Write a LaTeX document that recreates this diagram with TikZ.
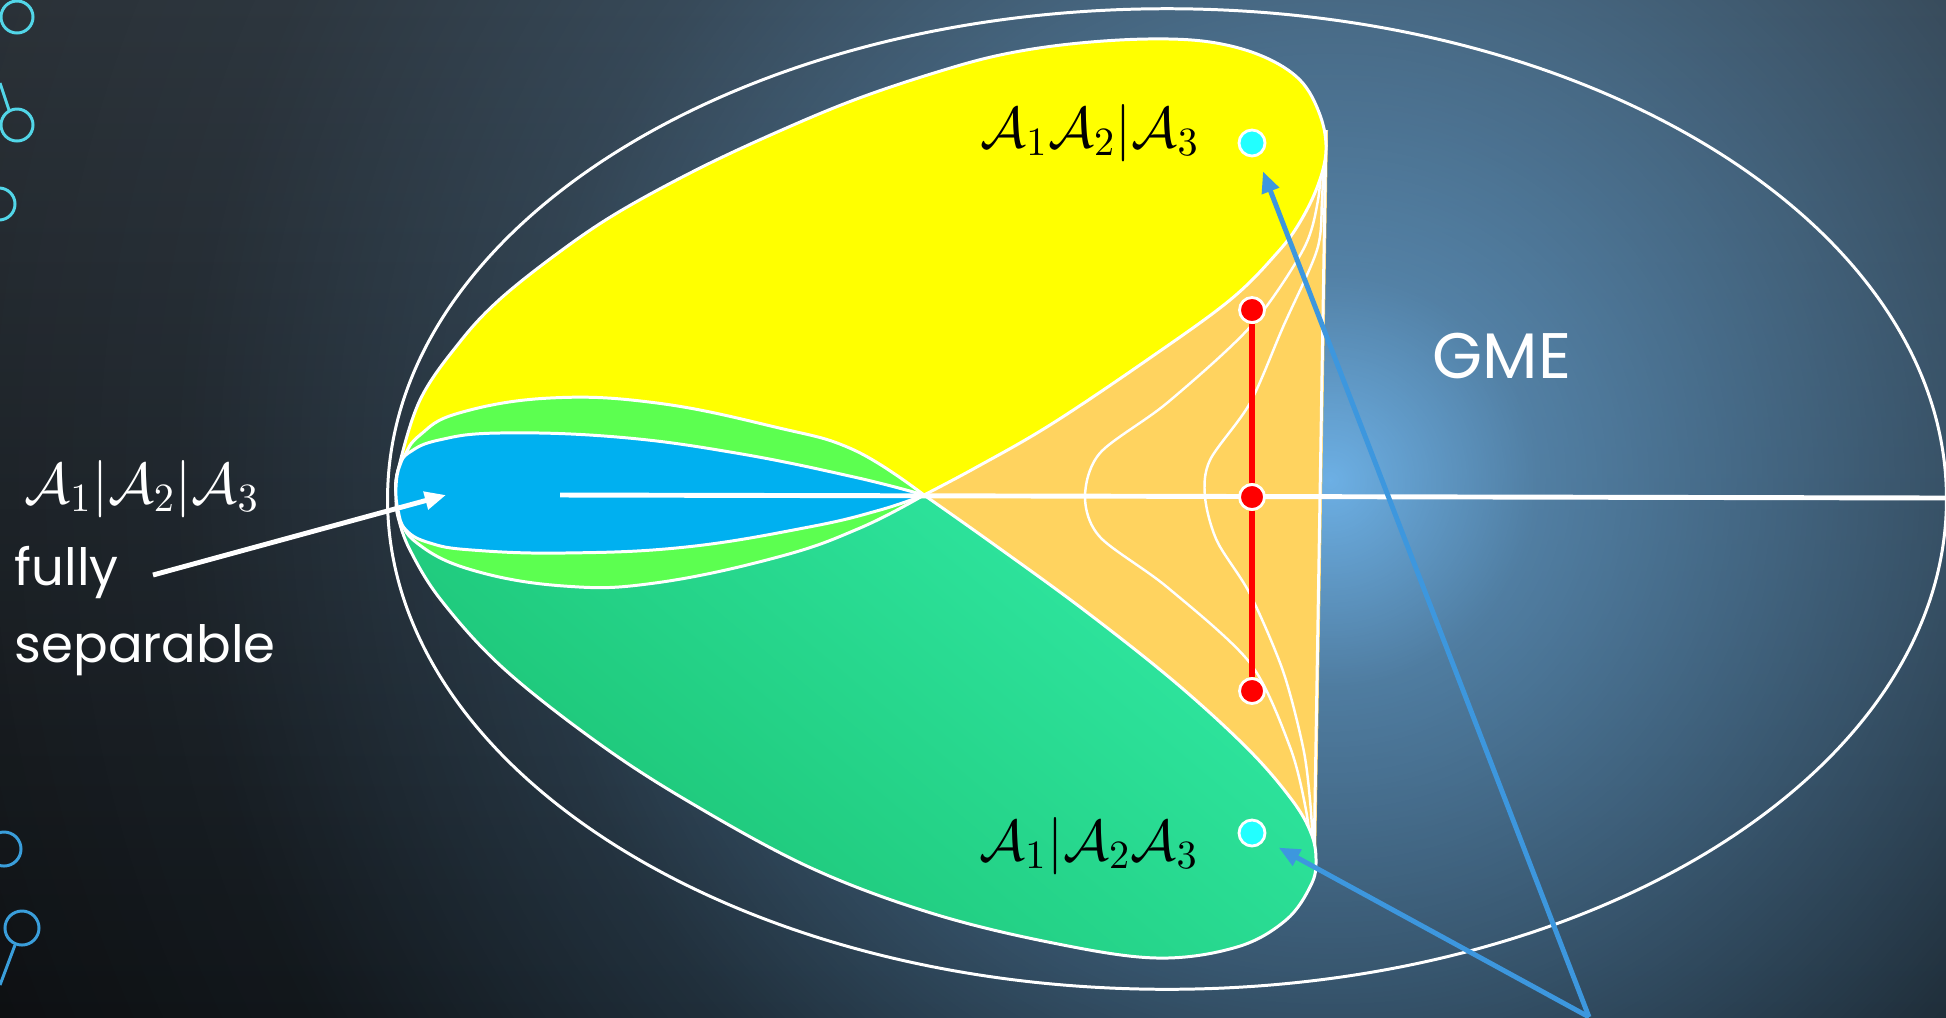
\RequirePackage{fix-cm}
\documentclass[tikz,border=0pt]{standalone}
\usepackage{fontspec}
\setmainfont{Poppins}
\usetikzlibrary{arrows.meta,fadings}
\definecolor{bgtop}{HTML}{2A3036}
\definecolor{bgbot}{HTML}{0D0F11}
\definecolor{glowc}{HTML}{6DB0E5}
\definecolor{yel}{HTML}{FFFF00}
\definecolor{orng}{HTML}{FFD35F}
\definecolor{gdark}{HTML}{1BC172}
\definecolor{glight}{HTML}{30E8A2}
\definecolor{lensg}{HTML}{5CFF50}
\definecolor{lensb}{HTML}{00B0F0}
\definecolor{cyandot}{HTML}{22FFFF}
\definecolor{arrblue}{HTML}{3D97DE}
\definecolor{ringcyan}{HTML}{52D6E8}
\definecolor{ringblue}{HTML}{3A9EDB}
\definecolor{dotred}{HTML}{FF0000}
\pgfdeclareradialshading{glowshade}{\pgfpointorigin}{color(0bp)=(white); color(3.2bp)=(black!34); color(7.5bp)=(black!55); color(12.5bp)=(black!80); color(17.8bp)=(black!95); color(23.1bp)=(black); color(50bp)=(black)}
\pgfdeclarefading{glowfade}{\pgfuseshading{glowshade}}
\begin{document}
\begin{tikzpicture}[x=0.01cm,y=-0.01cm,
  wline/.style={draw=white,line width=0.85pt},
  thinw/.style={draw=white,line width=0.7pt},
  reddot/.style={circle,fill=dotred,draw=white,line width=0.8pt,minimum size=0.25cm,inner sep=0pt},
  cyandotst/.style={circle,fill=cyandot,draw=white,line width=0.8pt,minimum size=0.26cm,inner sep=0pt},
  redline/.style={draw=dotred,line width=1.7pt},
  barrow/.style={draw=arrblue,line width=1.4pt,-{Triangle[length=6pt,width=5pt]}},
  warrow/.style={draw=white,line width=1.4pt,-{Triangle[length=6pt,width=5pt]}},
  calab/.style={inner sep=0pt,font=\fontsize{16.3}{19}\selectfont},
  sanslab/.style={inner sep=0pt,text=white,font=\fontsize{14.6}{18}\selectfont},
  gmelab/.style={inner sep=0pt,text=white,font=\fontsize{18.3}{22}\selectfont},
  ringc/.style={draw=ringcyan,line width=0.85pt},
  ringb/.style={draw=ringblue,line width=0.85pt}]
\useasboundingbox (0,0) rectangle (1946,1017);
\begin{scope}
\clip (0,0) rectangle (1946,1017);
% background
\shade[top color=bgtop,bottom color=bgbot] (0,0) rectangle (1946,1017);
\fill[glowc,path fading=glowfade] (1330,480) circle[radius=16cm];
% GME ellipse
\draw[wline] (1167,499) ellipse[x radius=7.79cm,y radius=4.9cm];
% orange region
\fill[orng] (924,495) -- (1328,130) -- (1316,865) -- cycle;
\draw[thinw] plot[smooth] coordinates {(1323,140) (1318,200) (1303,250) (1250,327) (1167,403) (1100,453) (1085,497) (1100,537) (1167,587) (1250,663) (1290,747) (1306,810) (1312,860)};
\draw[thinw] plot[smooth] coordinates {(1324,140) (1322,200) (1317,250) (1283,327) (1250,403) (1210,460) (1205,497) (1217,541) (1250,594) (1283,671) (1303,747) (1310,800) (1314,860)};
\draw[wline] (1326,130) -- (1314,862);
% yellow region
\filldraw[fill=yel,wline] plot[smooth,tension=0.6] coordinates {(396,492) (398,470) (420,400) (459,343) (499,300) (558,253) (617,213) (696,170) (775,133) (854,100) (934,73) (1000,55) (1070,44) (1147,39) (1210,42) (1262,56) (1300,80) (1320,115) (1326,150) (1318,185) (1300,222) (1277,253) (1230,300) (1147,360) (1050,425) (975,468) (924,495)} -- cycle;
% dark green region
\shadedraw[top color=glight,bottom color=gdark,shading angle=-40,wline] plot[smooth,tension=0.6] coordinates {(924,495) (992,543) (1084,610) (1176,683) (1249,750) (1292,800) (1311,833) (1316,860) (1311,885) (1286,920) (1237,947) (1157,958) (1053,943) (931,913) (809,867) (686,800) (594,740) (502,667) (441,600) (410,550) (398,517) (396,500)} -- cycle;
% bright green lens
\filldraw[fill=lensg,wline] plot[smooth,tension=0.7] coordinates {(924,495) (854,450) (775,427) (657,403) (550,398) (459,413) (420,435) (404,457) (396,482) (400,515) (417,543) (472,570) (564,586) (655,583) (778,557) (860,528) (924,495)};
% blue lens
\filldraw[fill=lensb,wline] plot[smooth,tension=0.7] coordinates {(924,495) (854,477) (736,453) (617,437) (499,433) (439,440) (410,452) (400,465) (396,487) (398,510) (406,530) (430,543) (472,550) (564,553) (686,547) (809,527) (880,510) (924,495)};
% horizontal axis
\draw[draw=white,line width=1.4pt] (560,495) -- (1946,498);
% red segment and dots
\node[reddot] (r1) at (1252,310) {};
\node[reddot] (r2) at (1252,497) {};
\node[reddot] (r3) at (1252,691) {};
\draw[redline] (r1) -- (r2);
\draw[redline] (r2) -- (r3);
% cyan dots
\node[cyandotst] (c1) at (1252,143) {};
\node[cyandotst] (c2) at (1252,833) {};
% labels
\node[calab,anchor=base west] (lab12) at (980,147) {$\mathcal{A}_1\mathcal{A}_2|\mathcal{A}_3$};
\node[calab,anchor=base west] (lab23) at (979,860) {$\mathcal{A}_1|\mathcal{A}_2\mathcal{A}_3$};
\node[calab,text=white,anchor=base west] (labfs) at (24,503) {$\mathcal{A}_1|\mathcal{A}_2|\mathcal{A}_3$};
\node[sanslab,anchor=base west] (fully) at (14,585) {fully};
\node[sanslab,anchor=base west] (sep) at (14,662) {separable};
\node[gmelab,anchor=base west] (gme) at (1432,378) {GME};
% arrows
\coordinate (wtail) at (153,575);
\coordinate (wtip) at (446,495);
\draw[warrow] (wtail) -- (wtip);
\coordinate (bsrc) at (1589,1017);
\draw[barrow,shorten >=0.16cm] (bsrc) -- (c1);
\draw[barrow,shorten >=0.16cm] (bsrc) -- (c2);
% decorative rings
\draw[ringc] (17,17) circle[radius=0.16cm];
\draw[ringc] (17,125) circle[radius=0.16cm];
\draw[ringc] (0,83) -- (9,110);
\draw[ringc] (-1,204) circle[radius=0.16cm];
\draw[ringb] (4,849) circle[radius=0.17cm];
\draw[ringb] (22,928) circle[radius=0.17cm];
\draw[ringb] (15,945) -- (0,985);
\end{scope}
\end{tikzpicture}
\end{document}
